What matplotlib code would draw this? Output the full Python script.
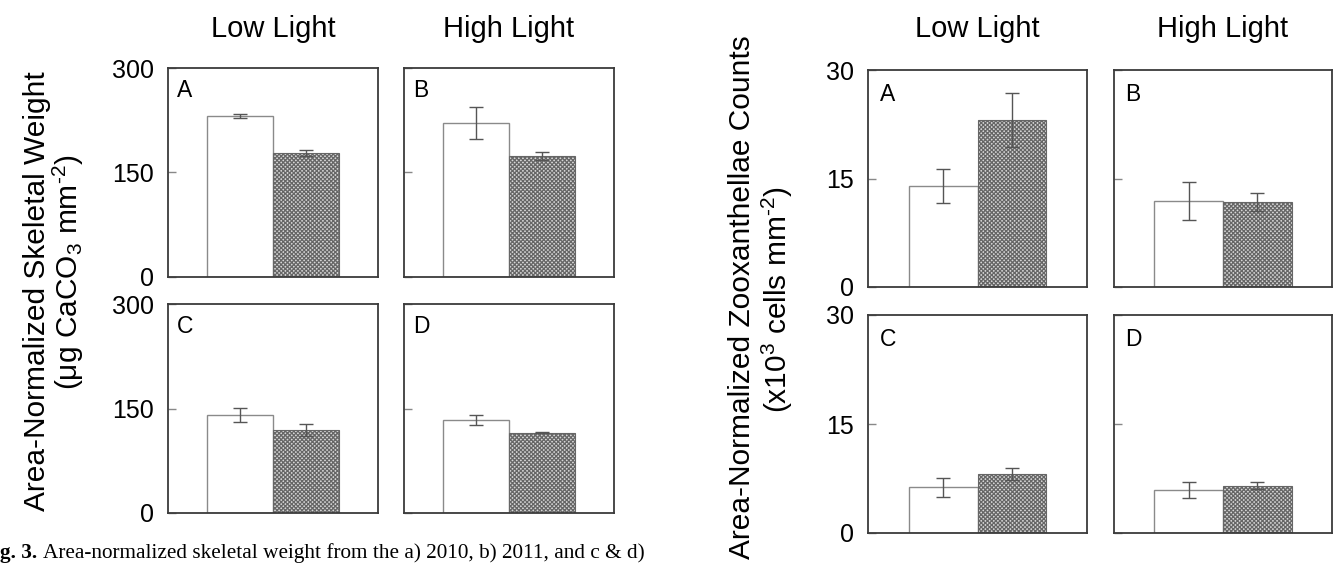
import matplotlib
matplotlib.use("Agg")
import matplotlib.pyplot as plt

# ---------------- data ----------------
panel_letters = ["A", "B", "C", "D"]
col_titles = ["Low Light", "High Light"]

skel_white = [231, 221, 140.5, 133.5]
skel_white_err = [3, 23, 10.5, 7]
skel_hatch = [178, 174, 119, 115.5]
skel_hatch_err = [4.5, 5.5, 8.4, 1]
skel_ticks = [0, 150, 300]

zoox_white = [14.0, 11.9, 6.3, 5.9]
zoox_white_err = [2.35, 2.6, 1.3, 1.1]
zoox_hatch = [23.1, 11.75, 8.1, 6.5]
zoox_hatch_err = [3.7, 1.3, 0.8, 0.5]
zoox_ticks = [0, 15, 30]

caption_bold = "g. 3."
caption_rest = "Area-normalized skeletal weight from the a) 2010, b) 2011, and c & d)"

# ---------------- style ----------------
W, H = 1333, 567
plt.rcParams['font.family'] = ['Liberation Sans', 'DejaVu Sans']
plt.rcParams['mathtext.fontset'] = 'custom'
plt.rcParams['mathtext.rm'] = 'Liberation Sans'
plt.rcParams['mathtext.it'] = 'Liberation Sans:italic'
plt.rcParams['mathtext.bf'] = 'Liberation Sans:bold'
plt.rcParams['hatch.linewidth'] = 0.9
plt.rcParams['hatch.color'] = '#4e4e4e'

fig = plt.figure(figsize=(W / 100, H / 100), dpi=100)


def rect(x0, y0, x1, y1):
    return [x0 / W, 1 - y1 / H, (x1 - x0) / W, (y1 - y0) / H]


left_boxes = [(168, 68, 378, 277), (404, 68, 614, 277),
              (168, 304, 378, 513), (404, 304, 614, 513)]
right_boxes = [(868, 70, 1087, 287), (1114, 70, 1332, 287),
               (868, 315, 1087, 533), (1114, 315, 1332, 533)]


def draw_set(boxes, white, white_err, hatch, hatch_err, ticks, lx, ly):
    for i, b in enumerate(boxes):
        ax = fig.add_axes(rect(*b))
        ax.bar([0], [white[i]], width=1.0, color='white', edgecolor='#8a8a8a',
               linewidth=1.0, zorder=2)
        ax.bar([1], [hatch[i]], width=1.0, color='#d6d6d6', edgecolor='#666666',
               linewidth=0.8, hatch='xxxxxxxx', zorder=2)
        ax.errorbar([0, 1], [white[i], hatch[i]], yerr=[white_err[i], hatch_err[i]],
                    fmt='none', ecolor='#555555', elinewidth=1.0, capsize=4.7,
                    capthick=1.0, zorder=3)
        ax.set_xlim(-1.09, 2.09)
        ax.set_ylim(ticks[0], ticks[-1])
        ax.set_xticks([])
        ax.set_yticks(ticks)
        ax.tick_params(axis='y', direction='in', length=6, width=1.0,
                       color='#888888', labelsize=18, pad=10)
        if i % 2 == 1:
            ax.set_yticklabels([])
        for s in ax.spines.values():
            s.set_color('#3a3a3a')
            s.set_linewidth(1.3)
        ax.text(lx, ly, panel_letters[i], transform=ax.transAxes,
                fontsize=16.5, ha='left', va='top', color='black')


draw_set(left_boxes, skel_white, skel_white_err, skel_hatch, skel_hatch_err,
         skel_ticks, 0.042, 0.945)
draw_set(right_boxes, zoox_white, zoox_white_err, zoox_hatch, zoox_hatch_err,
         zoox_ticks, 0.053, 0.94)

# column titles
for boxes in (left_boxes, right_boxes):
    for j in range(2):
        b = boxes[j]
        fig.text(((b[0] + b[2]) / 2) / W, 1 - 29 / H, col_titles[j],
                 ha='center', va='center', fontsize=21)

# y labels
fig.text(37 / W, 1 - 291 / H, "Area-Normalized Skeletal Weight", rotation=90,
         ha='center', va='center', fontsize=21.5)
fig.text(68 / W, 1 - 272 / H,
         r"($\mathregular{\mu}$g CaCO$_{3}$ mm$^{\text{-2}}$)", rotation=90,
         ha='center', va='center', fontsize=21.5)
fig.text(742 / W, 1 - 297 / H, "Area-Normalized Zooxanthellae Counts", rotation=90,
         ha='center', va='center', fontsize=21.5)
fig.text(777 / W, 1 - 300 / H, r"(x10$^{3}$ cells mm$^{\text{-2}}$)", rotation=90,
         ha='center', va='center', fontsize=21.5)

# caption
t1 = fig.text(0, 1 - 553 / H, caption_bold, ha='left', va='center', fontsize=15.3,
              fontweight='bold', family=['Liberation Serif', 'DejaVu Serif'])
fig.canvas.draw()
bb = t1.get_window_extent(renderer=fig.canvas.get_renderer())
fig.text((bb.x1 + 6) / W, 1 - 553 / H, caption_rest, ha='left', va='center',
         fontsize=15.3, family=['Liberation Serif', 'DejaVu Serif'])

fig.savefig("out.png", dpi=100)
